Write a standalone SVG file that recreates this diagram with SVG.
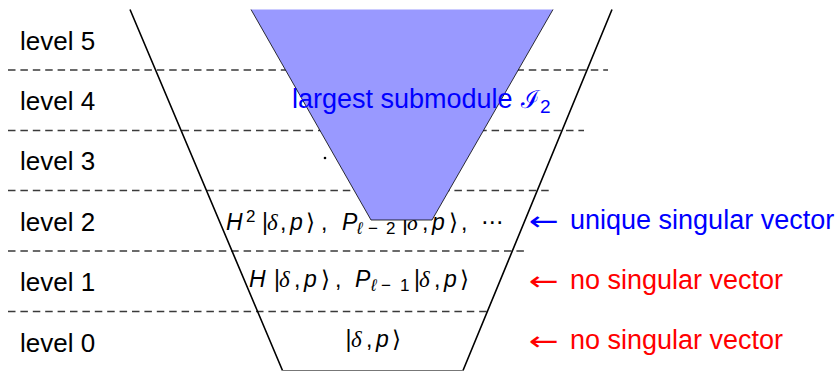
<svg xmlns="http://www.w3.org/2000/svg" width="838" height="372" viewBox="0 0 838 372">
<style>
.lbl{font-family:"Liberation Sans","DejaVu Sans",sans-serif;font-size:26px;fill:#000}
.ann{font-family:"Liberation Sans","DejaVu Sans",sans-serif;font-size:27px}
.arr{font-family:"DejaVu Sans",sans-serif;font-size:26px}
.m{font-family:"Liberation Sans","DejaVu Sans",sans-serif;font-size:23px;fill:#000}
.it{font-style:italic}
.g{font-family:"Liberation Serif",serif;font-style:italic}
.br{font-family:"DejaVu Sans",sans-serif;font-weight:200}
.sub{font-size:17px}
.dash{stroke:#3a3a3a;stroke-width:1.3;stroke-dasharray:7.5 4.9;fill:none}
.outer{stroke:#000;stroke-width:1.6;fill:none}
.blue{fill:#0000ff}
.red{fill:#ff0000}
</style>
<rect width="838" height="372" fill="#fff"/>
<g id="levels">
  <g id="dashes">
    <line class="dash" x1="8" y1="70" x2="608" y2="70"/>
    <line class="dash" x1="8" y1="130.5" x2="584" y2="130.5"/>
    <line class="dash" x1="8" y1="190.5" x2="553" y2="190.5"/>
    <line class="dash" x1="8" y1="251" x2="524" y2="251"/>
    <line class="dash" x1="8" y1="311.5" x2="488" y2="311.5"/>
  </g>
  <text class="lbl" x="20" y="50">level 5</text>
  <text class="lbl" x="20" y="110">level 4</text>
  <text class="lbl" x="20" y="170">level 3</text>
  <text class="lbl" x="20" y="231">level 2</text>
  <text class="lbl" x="20" y="291">level 1</text>
  <text class="lbl" x="20" y="352">level 0</text>
</g>
<g id="module">
  <path class="outer" d="M130,9.5 L282.5,370.5 M612,9.5 L463,370.5"/>
  <line x1="282.5" y1="370.5" x2="463" y2="370.5" stroke="#777" stroke-width="1.2"/>
</g>
<g id="level0-content">
  <text class="m" y="347"><tspan x="345.5">|</tspan><tspan class="g" x="351">δ</tspan><tspan x="366">,</tspan><tspan class="it" x="376">p</tspan><tspan class="br" x="392">⟩</tspan></text>
</g>
<g id="level1-content">
  <text class="m" y="287"><tspan class="it" x="249">H</tspan><tspan x="274">|</tspan><tspan class="g" x="279">δ</tspan><tspan x="294">,</tspan><tspan class="it" x="304">p</tspan><tspan class="br" x="321">⟩</tspan><tspan x="335">,</tspan><tspan class="it" x="355">P</tspan><tspan class="sub it" x="371" y="291">ℓ</tspan><tspan class="sub" x="381" y="291">−</tspan><tspan class="sub" x="400" y="291">1</tspan><tspan x="414" y="287">|</tspan><tspan class="g" x="419">δ</tspan><tspan x="434">,</tspan><tspan class="it" x="444">p</tspan><tspan class="br" x="460">⟩</tspan></text>
</g>
<g id="level2-content">
  <text class="m" y="229.5"><tspan class="it" x="226">H</tspan><tspan class="sub" x="246" y="221.5">2</tspan><tspan x="262" y="229.5">|</tspan><tspan class="g" x="267">δ</tspan><tspan x="280">,</tspan><tspan class="it" x="290">p</tspan><tspan class="br" x="306">⟩</tspan><tspan x="321">,</tspan><tspan class="it" x="342">P</tspan><tspan class="sub it" x="357" y="233.5">ℓ</tspan><tspan class="sub" x="368" y="233.5">−</tspan><tspan class="sub" x="386" y="233.5">2</tspan><tspan x="402" y="229.5">|</tspan><tspan class="g" x="407">δ</tspan><tspan x="422">,</tspan><tspan class="it" x="432">p</tspan><tspan class="br" x="449">⟩</tspan><tspan x="461">,</tspan><tspan x="481">⋯</tspan></text>
</g>
<g id="level3-content">
  <circle cx="325" cy="158" r="1.3" fill="#000"/>
</g>
<g id="submodule">
  <polygon points="251,9.5 553,9.5 432,220 371,220" fill="#9999ff"/>
  <path d="M251,9.5 L371,220 L432,220 L553,9.5" fill="none" stroke="#000" stroke-width="0.8"/>
  <text class="ann blue" x="292" y="108" font-size="26.6">largest submodule</text>
  <text class="ann blue" x="521" y="108"><tspan font-family="DejaVu Serif" font-size="25">ℐ</tspan><tspan font-size="19" y="113">2</tspan></text>
</g>
<g id="annotations">
  <text class="arr blue" x="529" y="230" textLength="30" lengthAdjust="spacingAndGlyphs">←</text>
  <text class="ann blue" x="570" y="229">unique singular vector</text>
  <text class="arr red" x="529" y="290" textLength="30" lengthAdjust="spacingAndGlyphs">←</text>
  <text class="ann red" x="570" y="289">no singular vector</text>
  <text class="arr red" x="529" y="350" textLength="30" lengthAdjust="spacingAndGlyphs">←</text>
  <text class="ann red" x="570" y="349">no singular vector</text>
</g>
</svg>
